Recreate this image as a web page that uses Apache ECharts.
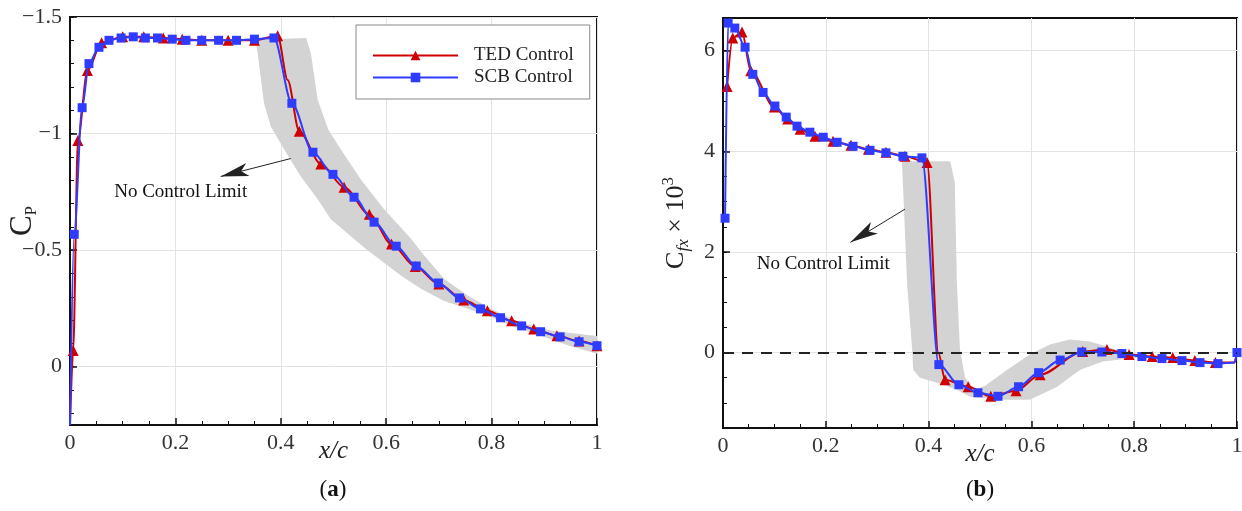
<!DOCTYPE html>
<html>
<head>
<meta charset="UTF-8" />
<title>Cp and Cfx with TED / SCB control</title>
<script src="https://cdn.jsdelivr.net/npm/echarts@6/dist/echarts.min.js"></script>
<style>
  html, body { margin: 0; padding: 0; background: #fff; }
  #chart { width: 1242px; height: 511px; }
</style>
</head>
<body>
<div id="chart"></div>
<script type="text/javascript">
    // (a) pressure coefficient, TED control
    var cpTedX = [0, 0.006, 0.015, 0.033, 0.06, 0.10, 0.14, 0.177, 0.213, 0.25, 0.30, 0.35, 0.394, 0.413, 0.435, 0.476, 0.52, 0.568, 0.61, 0.655, 0.70, 0.747, 0.792, 0.838, 0.88, 0.924, 0.966, 1.0];
    var cpTedY = [0.25, -0.07, -0.97, -1.27, -1.39, -1.415, -1.415, -1.41, -1.405, -1.40, -1.40, -1.40, -1.42, -1.23, -1.01, -0.87, -0.77, -0.654, -0.526, -0.43, -0.355, -0.286, -0.24, -0.197, -0.162, -0.133, -0.11, -0.09];
    var cpTedBare = [0, 13];
    // (a) pressure coefficient, SCB control
    var cpScbX = [0, 0.008, 0.023, 0.036, 0.055, 0.074, 0.097, 0.12, 0.143, 0.166, 0.194, 0.22, 0.25, 0.282, 0.316, 0.35, 0.387, 0.421, 0.461, 0.499, 0.539, 0.577, 0.619, 0.657, 0.699, 0.739, 0.779, 0.817, 0.857, 0.893, 0.93, 0.966, 1.0];
    var cpScbY = [0.25, -0.568, -1.111, -1.30, -1.37, -1.40, -1.41, -1.415, -1.41, -1.41, -1.405, -1.40, -1.40, -1.40, -1.40, -1.405, -1.41, -1.13, -0.92, -0.825, -0.727, -0.62, -0.517, -0.432, -0.359, -0.295, -0.248, -0.21, -0.175, -0.15, -0.128, -0.107, -0.09];
    var cpScbBare = [0];
    // (a) no control limit band, outline
    var cpBandX = [0.352, 0.448, 0.457, 0.470, 0.490, 0.514, 0.552, 0.596, 0.648, 0.667, 0.710, 0.756, 0.80, 0.851, 0.914, 1.0,
                   1.0, 0.947, 0.895, 0.838, 0.794, 0.756, 0.710, 0.667, 0.629, 0.562, 0.495, 0.470, 0.438, 0.410, 0.381, 0.368, 0.356];
    var cpBandY = [-1.402, -1.41, -1.346, -1.145, -1.017, -0.932, -0.803, -0.675, -0.547, -0.491, -0.376, -0.303, -0.248, -0.192, -0.154, -0.132,
                   -0.056, -0.09, -0.132, -0.175, -0.218, -0.248, -0.282, -0.333, -0.389, -0.504, -0.632, -0.718, -0.816, -0.919, -1.03, -1.132, -1.346];
    var cpMajor = [-1.5, -1, -0.5, 0];

    // (b) skin friction x 1000, TED control
    var cfTedX = [0.008, 0.019, 0.037, 0.054, 0.10, 0.126, 0.15, 0.179, 0.214, 0.249, 0.283, 0.317, 0.354, 0.397, 0.419, 0.432, 0.477, 0.521, 0.57, 0.617, 0.70, 0.747, 0.79, 0.835, 0.875, 0.918, 0.958, 0.995, 1.0];
    var cfTedY = [5.29, 6.25, 6.37, 5.6, 4.88, 4.64, 4.44, 4.3, 4.2, 4.12, 4.04, 3.98, 3.9, 3.78, 0.0, -0.54, -0.68, -0.87, -0.76, -0.44, 0.02, 0.06, -0.04, -0.08, -0.1, -0.16, -0.2, -0.2, 0.0];
    var cfTedBare = [14, 27, 28];
    // (b) skin friction x 1000, SCB control
    var cfScbX = [0.004, 0.01, 0.023, 0.043, 0.058, 0.078, 0.101, 0.123, 0.144, 0.169, 0.195, 0.222, 0.253, 0.286, 0.317, 0.35, 0.387, 0.42, 0.459, 0.496, 0.535, 0.575, 0.614, 0.656, 0.698, 0.737, 0.776, 0.815, 0.854, 0.893, 0.928, 0.963, 0.995, 1.0];
    var cfScbY = [2.67, 6.55, 6.45, 6.07, 5.53, 5.17, 4.9, 4.68, 4.5, 4.38, 4.28, 4.18, 4.1, 4.02, 3.97, 3.9, 3.87, -0.24, -0.64, -0.8, -0.87, -0.68, -0.4, -0.15, 0.01, 0.01, -0.02, -0.08, -0.12, -0.16, -0.2, -0.22, -0.2, 0.0];
    var cfScbBare = [32];
    // (b) no control limit band, outline
    var cfBandX = [0.348, 0.442, 0.451, 0.455, 0.461, 0.471, 0.490, 0.510, 0.553, 0.597, 0.636, 0.675, 0.714, 0.753, 0.792, 0.831,
                   0.792, 0.739, 0.695, 0.650, 0.597, 0.539, 0.481, 0.455, 0.416, 0.383, 0.370, 0.368, 0.358, 0.350];
    var cfBandY = [3.80, 3.80, 3.38, 1.39, 0.06, -0.50, -0.74, -0.66, -0.34, -0.04, 0.16, 0.26, 0.22, 0.10, -0.04, -0.08,
                   -0.12, -0.18, -0.34, -0.68, -0.94, -0.94, -0.88, -0.74, -0.60, -0.50, -0.34, 0.06, 1.39, 3.38];
    var cfMajor = [0, 2, 4, 6];

    var serif = "'Liberation Serif', 'DejaVu Serif', serif";
    var red = '#d00000';
    var blue = '#2f3cff';

    var myChart = echarts.init(document.getElementById('chart'));

    //点列，bare里的点不画标记
    function pts(xs, ys, bare) {
        return xs.map(function (x, i) {
            var p = { value: [x, ys[i]] };
            if (bare && bare.indexOf(i) >= 0) p.symbol = 'none';
            return p;
        });
    }

    //灰色区域
    function band(xs, ys, xi, yi) {
        return {
            type: 'custom', xAxisIndex: xi, yAxisIndex: yi, z: 1, silent: true,
            data: xs.map(function (x, i) { return [x, ys[i]]; }),
            renderItem: function (params, api) {
                if (params.dataIndex !== 0) return;
                var p = xs.map(function (x, i) { return api.coord([x, ys[i]]); });
                return { type: 'polygon', shape: { points: p }, style: { fill: '#d3d3d3' } };
            }
        };
    }

    function curve(name, xs, ys, bare, xi, yi, isTed) {
        return {
            name: name, type: 'line', xAxisIndex: xi, yAxisIndex: yi,
            data: pts(xs, ys, bare),
            smooth: 0.3, smoothMonotone: 'x',
            symbol: isTed ? 'triangle' : 'rect',
            symbolSize: isTed ? 11 : 9,
            z: isTed ? 3 : 4,
            lineStyle: { color: isTed ? red : blue, width: 2 },
            itemStyle: { color: isTed ? red : blue },
            animation: false
        };
    }

    function minus(v) { return String(v).replace('-', '\u2212'); }

    function xAx(gi) {
        return {
            type: 'value', gridIndex: gi, min: 0, max: 1, interval: 0.2,
            name: 'x/c', nameLocation: 'middle', nameGap: 14, nameMoveOverlap: false,
            nameTextStyle: { fontFamily: serif, fontStyle: 'italic', fontSize: 25, color: '#222' },
            axisLine: { onZero: false, lineStyle: { color: '#111', width: 2 } },
            axisTick: { inside: true, length: 7, lineStyle: { color: '#111', width: 1.5 } },
            minorTick: { show: true, splitNumber: 4, length: 4, lineStyle: { color: '#111' } },
            axisLabel: { margin: 7, fontFamily: serif, fontSize: 22, color: '#333' },
            splitLine: { show: true, lineStyle: { color: '#e3e3e3' } }
        };
    }

    function yMain(gi, min, max, major, inverse, name, gap, rich) {
        return {
            type: 'value', gridIndex: gi, position: 'left', min: min, max: max, inverse: inverse,
            name: name, nameLocation: 'middle', nameRotate: 90, nameGap: gap, nameMoveOverlap: false,
            nameTextStyle: { fontFamily: serif, color: '#222', rich: rich },
            axisLine: { onZero: false, lineStyle: { color: '#111', width: 2 } },
            axisTick: { customValues: major, inside: true, length: 7, lineStyle: { color: '#111', width: 1.5 } },
            axisLabel: { customValues: major, margin: 8, fontFamily: serif, fontSize: 22, color: '#333', formatter: minus },
            splitLine: { show: true, lineStyle: { color: '#e3e3e3' } }
        };
    }

    function yMinor(gi, min, max, step, inverse) {
        return {
            type: 'value', gridIndex: gi, position: 'left', min: min, max: max, interval: step, inverse: inverse,
            axisLine: { show: false, onZero: false }, axisLabel: { show: false }, splitLine: { show: false },
            axisTick: { inside: true, length: 4, lineStyle: { color: '#111' } }
        };
    }

    var tedCp = curve('TED Control', cpTedX, cpTedY, cpTedBare, 0, 0, true);
    tedCp.markLine = {
        silent: true, animation: false, label: { show: false },
        data: [[
            { coord: [0.419, -0.893], symbol: 'none', lineStyle: { color: '#222', width: 1, type: 'solid' } },
            { coord: [0.286, -0.816], symbol: 'arrow', symbolSize: [10, 28] }
        ]]
    };
    tedCp.markPoint = {
        silent: true, animation: false, symbolSize: 1, itemStyle: { color: 'rgba(0,0,0,0)' },
        label: { show: true, position: 'inside', formatter: 'No Control Limit', color: '#111', fontFamily: serif, fontSize: 19 },
        data: [{ coord: [0.21, -0.748] }]
    };

    var tedCf = curve('TED Control', cfTedX, cfTedY, cfTedBare, 1, 2, true);
    tedCf.markLine = {
        silent: true, animation: false, label: { show: false }, symbol: 'none',
        data: [
            { yAxis: 0, lineStyle: { color: '#222', width: 2, type: [11, 8] } },
            [
                { coord: [0.354, 2.85], symbol: 'none', lineStyle: { color: '#222', width: 1, type: 'solid' } },
                { coord: [0.248, 2.19], symbol: 'arrow', symbolSize: [10, 28] }
            ]
        ]
    };
    tedCf.markPoint = {
        silent: true, animation: false, symbolSize: 1, itemStyle: { color: 'rgba(0,0,0,0)' },
        label: { show: true, position: 'inside', formatter: 'No Control Limit', color: '#111', fontFamily: serif, fontSize: 19 },
        data: [{ coord: [0.195, 1.75] }]
    };

    var option = {
        backgroundColor: '#fff',
        animation: false,
        grid: [
            { left: 70, right: 645, top: 17, bottom: 86, outerBoundsMode: 'none', show: true, borderColor: '#111', borderWidth: 2, backgroundColor: '#fff' },
            { left: 723, right: 5, top: 18, bottom: 83, outerBoundsMode: 'none', show: true, borderColor: '#111', borderWidth: 2, backgroundColor: '#fff' }
        ],
        legend: {
            data: ['TED Control', 'SCB Control'],
            orient: 'vertical', left: 356, top: 25,
            padding: [21, 16, 12, 16], itemGap: 3,
            itemWidth: 85, itemHeight: 12,
            borderColor: '#888', borderWidth: 1, backgroundColor: '#fff',
            textStyle: { fontFamily: serif, fontSize: 19, color: '#222', padding: [0, 0, 0, 11] }
        },
        xAxis: [xAx(0), xAx(1)],
        yAxis: [
            yMain(0, -1.5, 0.25, cpMajor, true, '{c|C}{s|P}', 30, {
                c: { fontFamily: serif, fontSize: 31, color: '#222' },
                s: { fontFamily: serif, fontSize: 17, color: '#222', verticalAlign: 'bottom', lineHeight: 34 }
            }),
            yMinor(0, -1.5, 0.25, 0.1, true),
            yMain(1, -1.5, 6.65, cfMajor, false, '{c|C}{s|fx}{c| \u00d7 10}{p|3}', 31, {
                c: { fontFamily: serif, fontSize: 26, color: '#222' },
                s: { fontFamily: serif, fontSize: 17, fontStyle: 'italic', color: '#222', verticalAlign: 'bottom', lineHeight: 32 },
                p: { fontFamily: serif, fontSize: 17, color: '#222', verticalAlign: 'top', lineHeight: 32 }
            }),
            yMinor(1, -1.5, 6.65, 0.5, false)
        ],
        graphic: [
            { type: 'text', x: 333, y: 490, style: { text: '({b|a})', align: 'center', verticalAlign: 'middle', fontFamily: serif, fontSize: 23, fill: '#111', rich: { b: { fontFamily: serif, fontSize: 23, fontWeight: 'bold', fill: '#111' } } } },
            { type: 'text', x: 980, y: 490, style: { text: '({b|b})', align: 'center', verticalAlign: 'middle', fontFamily: serif, fontSize: 23, fill: '#111', rich: { b: { fontFamily: serif, fontSize: 23, fontWeight: 'bold', fill: '#111' } } } }
        ],
        series: [
            band(cpBandX, cpBandY, 0, 0),
            tedCp,
            curve('SCB Control', cpScbX, cpScbY, cpScbBare, 0, 0, false),
            band(cfBandX, cfBandY, 1, 2),
            tedCf,
            curve('SCB Control', cfScbX, cfScbY, cfScbBare, 1, 2, false)
        ]
    };
    myChart.setOption(option);
</script>
</body>
</html>
